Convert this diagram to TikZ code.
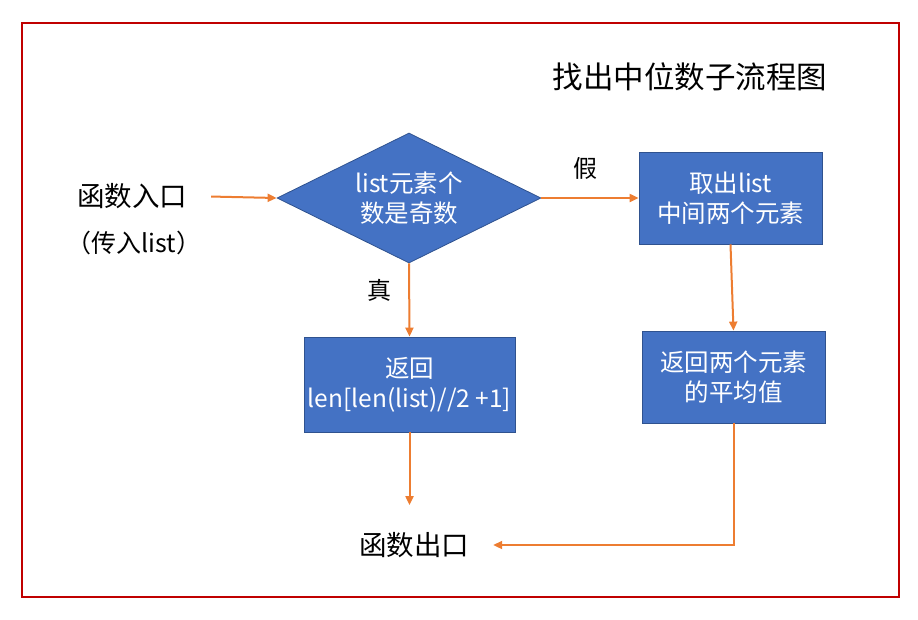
\documentclass[tikz,border=0pt]{standalone}
\usepackage{fontspec}
\setmainfont{Noto Sans CJK SC}
\usetikzlibrary{arrows.meta, positioning, shapes.geometric}
\definecolor{boxblue}{HTML}{4472C4}
\definecolor{boxedge}{HTML}{2F528F}
\definecolor{flowline}{HTML}{ED7D31}
\definecolor{frame}{HTML}{C00000}

\begin{document}
\begin{tikzpicture}[x=1pt, y=-1pt,
  procbox/.style={draw=boxedge, fill=boxblue, line width=0.8pt, text=white,
    align=center, inner sep=0pt, font=\fontsize{24.5}{30}\selectfont},
  decision/.style={diamond, aspect=2.03, draw=boxedge, fill=boxblue, line width=0.8pt, text=white,
    align=center, inner sep=0pt, font=\fontsize{24.5}{30}\selectfont},
  plain/.style={align=center, inner sep=0pt, font=\fontsize{27.5}{32}\selectfont},
  flow/.style={draw=flowline, line width=2pt, -{Triangle[length=9pt, width=8pt]}}
]
\useasboundingbox (0,0) rectangle (918,619);
\draw[frame, line width=2pt] (22,23) rectangle (899,597);

% title
\node[plain, font=\fontsize{30.5}{36}\selectfont] (title) at (690,77) {找出中位数子流程图};

% nodes
\node[plain] (entry) at (132,196) {函数入口};
\node[plain, font=\fontsize{25}{30}\selectfont] (entrynote) at (134,243) {（传入list）};
\node[decision, minimum width=264pt, minimum height=130pt] (check) at (409,198) {list元素个\\数是奇数};
\node[procbox, minimum width=183pt, minimum height=92pt] (takemid) at (730.5,198) {取出list\\中间两个元素};
\node[procbox, minimum width=183pt, minimum height=92pt] (avg) at (733.5,377) {返回两个元素\\的平均值};
\node[procbox, minimum width=211pt, minimum height=95pt] (oddret) at (409.5,384.5) {返回\\len[len(list)//2 +1]};
\node[plain] (exit) at (414,545) {函数出口};

% labels
\node[plain, font=\fontsize{24}{28}\selectfont] (nolabel) at (585,168) {假};
\node[plain, font=\fontsize{24}{28}\selectfont] (yeslabel) at (379,290) {真};

% connectors
\draw[flow, shorten <=24pt] (entry.east) -- (check.west);
\draw[flow] (check.east) -- (takemid.west);
\draw[flow] (takemid.south) -- (avg.north);
\draw[flow] (check.south) -- (oddret.north);
\draw[flow, shorten >=27pt] (oddret.south) -- (exit.north -| oddret.south);
\draw[flow, shorten >=24pt] (avg.south) |- (exit.east);
\end{tikzpicture}
\end{document}
